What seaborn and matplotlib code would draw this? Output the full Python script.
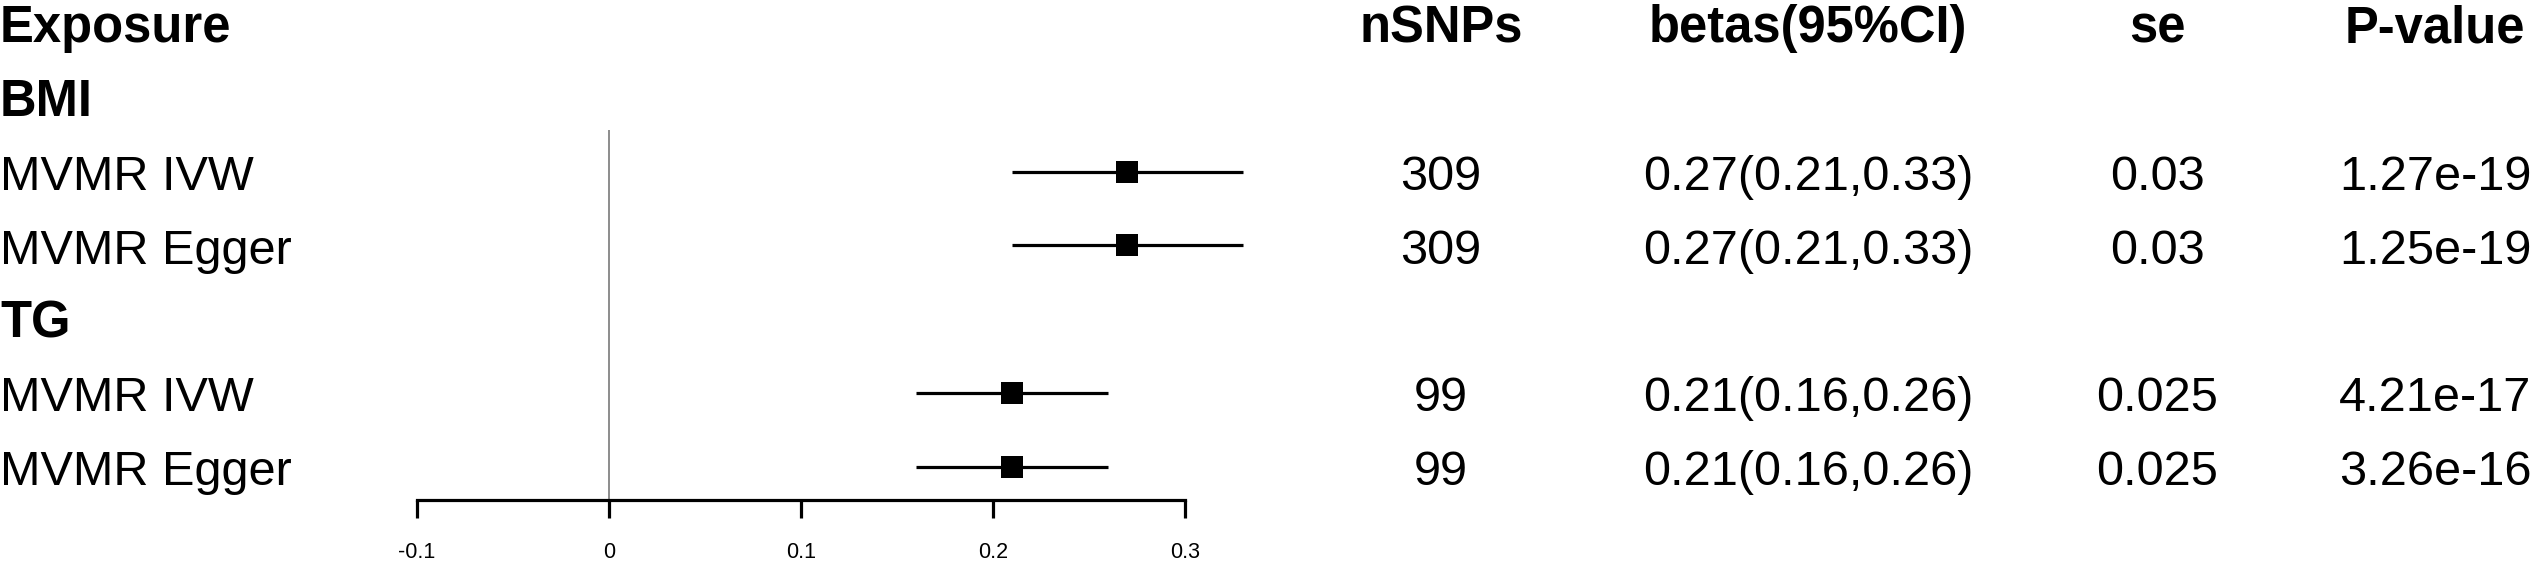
import matplotlib
matplotlib.use("Agg")
import matplotlib.pyplot as plt
import matplotlib.transforms as mtransforms
import pandas as pd
import seaborn as sns

# table data
exposures = ["BMI", "TG"]
methods = ["MVMR IVW", "MVMR Egger"]
beta = [0.27, 0.27, 0.21, 0.21]
ci_low = [0.21, 0.21, 0.16, 0.16]
ci_high = [0.33, 0.33, 0.26, 0.26]
nsnps = [309, 309, 99, 99]
se_labels = ["0.03", "0.03", "0.025", "0.025"]
p_labels = ["1.27e-19", "1.25e-19", "4.21e-17", "3.26e-16"]
headers = ["Exposure", "nSNPs", "betas(95%CI)", "se", "P-value"]
x_ticks = [-0.1, 0, 0.1, 0.2, 0.3]
x_ticklabels = ["-0.1", "0", "0.1", "0.2", "0.3"]

sns.set_theme(style="white")
plt.rcParams["font.family"] = ["Liberation Sans", "DejaVu Sans"]
plt.rcParams["text.color"] = "black"

W, H = 2541, 564
fig = plt.figure(figsize=(W / 100, H / 100), dpi=100)

# x=0 at 609px, 1920 px per unit of beta
x0_px, px_per_unit = 609, 1920
xlim = (-0.12, 0.36)
ax = fig.add_axes([(x0_px + xlim[0] * px_per_unit) / W, 0,
                   (xlim[1] - xlim[0]) * px_per_unit / W, 1])

# row layout: row i centred at 24 + 73.8*i px from top
row_h, row0 = 73.8, 24
ax.set_xlim(*xlim)
ax.set_ylim((H - row0) / row_h, -row0 / row_h)

# build rows: header, group, method, method, group, ...
rows = []
k = 0
r = 1
for exp in exposures:
    rows.append(dict(row=r, kind="group", label=exp))
    r += 1
    for m in methods:
        rows.append(dict(row=r, kind="est", label=m, beta=beta[k], lo=ci_low[k],
                         hi=ci_high[k], n=str(nsnps[k]), se=se_labels[k], p=p_labels[k]))
        k += 1
        r += 1
df = pd.DataFrame(rows)
est = df[df["kind"] == "est"]

axis_row = (500 - row0) / row_h
ax.vlines(0, (130 - row0) / row_h, axis_row, color="#8c8c8c", linewidth=1.4, zorder=1)
ax.hlines(est["row"], est["lo"], est["hi"], color="black", linewidth=2.3, zorder=2)
sns.scatterplot(data=est, x="beta", y="row", marker="s", s=250, color="black",
                edgecolor="black", linewidth=0, ax=ax, zorder=3, legend=False)

for side in ["left", "top", "right"]:
    ax.spines[side].set_visible(False)
ax.spines["bottom"].set_position(("data", axis_row))
ax.spines["bottom"].set_bounds(-0.1, 0.3)
ax.spines["bottom"].set_linewidth(2.3)
ax.spines["bottom"].set_color("black")
ax.set_xticks(x_ticks)
ax.set_xticklabels(x_ticklabels)
ax.tick_params(axis="x", bottom=True, direction="out", length=13, width=2.3,
               color="black", labelsize=15.5, pad=17, labelcolor="black")
ax.set_yticks([])
ax.set_xlabel("")
ax.set_ylabel("")

trans = mtransforms.blended_transform_factory(fig.transFigure, ax.transData)
base = 0.25  # baseline offset in rows
col_x = {"nSNPs": 1441, "betas(95%CI)": 1808, "se": 2157, "P-value": 2435}

for h in headers:
    if h == "Exposure":
        ax.text(0, base, h, transform=trans, ha="left", va="baseline",
                fontsize=36.5, fontweight="bold", color="black")
    else:
        ax.text(col_x[h] / W, base, h, transform=trans, ha="center", va="baseline",
                fontsize=36.5, fontweight="bold", color="black")

for _, rw in df.iterrows():
    y = rw["row"] + base
    if rw["kind"] == "group":
        ax.text(0, y, rw["label"], transform=trans, ha="left", va="baseline",
                fontsize=36.5, fontweight="bold", color="black")
        continue
    ax.text(0, y, rw["label"], transform=trans, ha="left", va="baseline",
            fontsize=35, color="black")
    cells = [rw["n"], f"{rw['beta']:.2f}({rw['lo']:.2f},{rw['hi']:.2f})", rw["se"], rw["p"]]
    for col, txt in zip(headers[1:], cells):
        ax.text(col_x[col] / W, y, txt, transform=trans, ha="center", va="baseline",
                fontsize=35, color="black")

fig.savefig("out.png", dpi=100)
